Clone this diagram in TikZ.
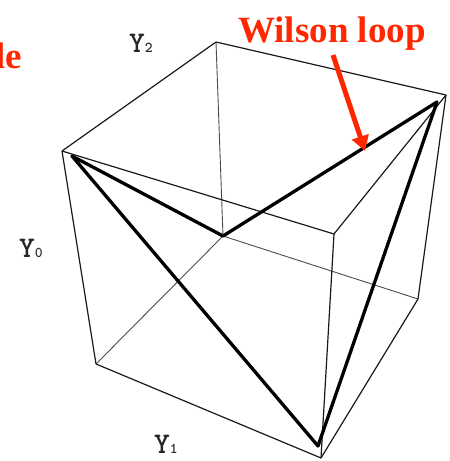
\documentclass[tikz,border=0pt]{standalone}
\usepackage{fontspec}
\setmainfont{Liberation Serif}
\usetikzlibrary{arrows.meta}
\definecolor{wred}{RGB}{255,38,0}
\tikzset{
  edgeline/.style={line width=1.2pt,black!90},
  backline/.style={line width=0.9pt,black!70},
  loopline/.style={line width=3.3pt,black,line cap=round,line join=round},
  redlabel/.style={text=wred,font=\fontsize{37}{40}\selectfont\bfseries,inner sep=0pt},
  axislabel/.style={text=black!85,font=\fontsize{30}{30}\selectfont\ttfamily\bfseries,inner sep=0pt,anchor=base west},
  pointer/.style={draw=wred,line width=5pt,-{Triangle[length=15pt,width=17pt]}}
}
\newcommand{\subdigit}[1]{{\fontsize{15}{15}\selectfont #1}}
\begin{document}
\begin{tikzpicture}[x=1pt,y=-1pt]
\useasboundingbox (0,0) rectangle (450,461);
\clip (0,0) rectangle (450,461);
% cube corners
\coordinate (A) at (62,151);
\coordinate (B) at (216,42);
\coordinate (C) at (446,95);
\coordinate (D) at (334,234);
\coordinate (E) at (321,458);
\coordinate (F) at (96,364);
\coordinate (G) at (418,299);
\coordinate (H) at (223,236);
% loop corners
\coordinate (LA) at (72,156);
\coordinate (LC) at (437,102);
\coordinate (LE) at (318,446);
% cube edges
\draw[backline] (B) -- (H);
\draw[backline] (H) -- (F);
\draw[backline] (H) -- (G);
\draw[edgeline] (A) -- (B);
\draw[edgeline] (B) -- (C);
\draw[edgeline] (A) -- (D);
\draw[edgeline] (D) -- (C);
\draw[edgeline] (A) -- (F);
\draw[edgeline] (D) -- (E);
\draw[edgeline] (C) -- (G);
\draw[edgeline] (F) -- (E);
\draw[edgeline] (E) -- (G);
% Wilson loop
\draw[loopline] (LA) -- (H) -- (LC) -- (LE) -- cycle;
% labels
\node[redlabel,anchor=base west] (wl) at (238,42) {Wilson loop};
\node[redlabel,anchor=base east] (cut) at (22,68) {le};
\coordinate (tail) at (333,55);
\coordinate (tip) at (365,151);
\draw[pointer] (tail) -- (tip);
\node[axislabel] (y2) at (129,52) {Y\subdigit{2}};
\node[axislabel] (y0) at (19,257) {Y\subdigit{0}};
\node[axislabel] (y1) at (154,453) {Y\subdigit{1}};
\end{tikzpicture}
\end{document}
